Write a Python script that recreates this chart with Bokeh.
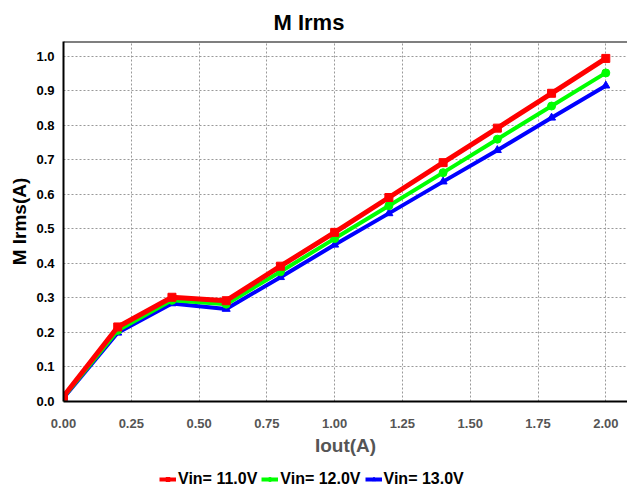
from bokeh.plotting import figure
from bokeh.layouts import column
from bokeh.models import Range1d, Legend, LegendItem, Span, FixedTicker, PrintfTickFormatter
from bokeh.embed import file_html
from bokeh.resources import INLINE

iout = [0.0, 0.2, 0.4, 0.6, 0.8, 1.0, 1.2, 1.4, 1.6, 1.8, 2.0]
vin11 = [0.015, 0.216, 0.302, 0.292, 0.392, 0.490, 0.591, 0.692, 0.792, 0.893, 0.994]
vin12 = [0.012, 0.206, 0.293, 0.282, 0.376, 0.472, 0.567, 0.663, 0.760, 0.856, 0.952]
vin13 = [0.010, 0.199, 0.284, 0.268, 0.360, 0.454, 0.545, 0.637, 0.728, 0.822, 0.915]
series_names = ["Vin= 11.0V", "Vin= 12.0V", "Vin= 13.0V"]
x_ticks = [0.0, 0.25, 0.5, 0.75, 1.0, 1.25, 1.5, 1.75, 2.0]
y_ticks = [0.0, 0.1, 0.2, 0.3, 0.4, 0.5, 0.6, 0.7, 0.8, 0.9, 1.0]

FONT = "Liberation Sans"

p = figure(width=627, height=458, output_backend="svg", toolbar_location=None,
           x_range=Range1d(0, 2.08), y_range=Range1d(0, 1.043),
           min_border_left=63, min_border_right=0, min_border_top=40, min_border_bottom=57)

p.title.text = "M Irms"
p.title.align = "left"
p.title.offset = 210
p.title.standoff = 14
p.title.text_font = FONT
p.title.text_font_size = "22px"
p.title.text_font_style = "bold"
p.title.text_color = "black"

p.outline_line_color = None
p.background_fill_color = "white"
p.border_fill_color = "white"

for g in (p.xgrid, p.ygrid):
    g.grid_line_color = "#999999"
    g.grid_line_dash = "2 2"
    g.grid_line_width = 1
p.xgrid.ticker = FixedTicker(ticks=x_ticks)
p.ygrid.ticker = FixedTicker(ticks=y_ticks)

p.xaxis.ticker = FixedTicker(ticks=x_ticks)
p.xaxis.formatter = PrintfTickFormatter(format="%.2f")
p.yaxis.ticker = FixedTicker(ticks=y_ticks)
p.yaxis.formatter = PrintfTickFormatter(format="%.1f")

p.xaxis.axis_label = "Iout(A)"
p.yaxis.axis_label = "M Irms(A)"
for ax in (p.xaxis, p.yaxis):
    ax.major_tick_line_color = None
    ax.minor_tick_line_color = None
    ax.major_tick_out = 0
    ax.major_tick_in = 0
    ax.minor_tick_out = 0
    ax.minor_tick_in = 0
    ax.axis_line_color = "black"
    ax.axis_line_width = 2
    ax.major_label_text_font = FONT
    ax.major_label_text_font_style = "bold"
    ax.major_label_text_font_size = "13px"
    ax.axis_label_text_font = FONT
    ax.axis_label_text_font_style = "bold"
    ax.axis_label_text_font_size = "19px"
p.xaxis.major_label_text_color = "#555555"
p.xaxis.axis_label_text_color = "#555555"
p.yaxis.major_label_text_color = "black"
p.yaxis.axis_label_text_color = "black"
p.xaxis.major_label_standoff = 17
p.yaxis.major_label_standoff = 9
p.xaxis.axis_label_standoff = 4
p.yaxis.axis_label_standoff = 3

p.add_layout(Span(location=1.043, dimension="width", line_color="black", line_width=2))

colors = ["#ff0000", "#00ff00", "#0000ff"]
markers = ["square", "circle", "triangle"]
widths = [5, 4, 4]
for ys, c, m, w in zip([vin13, vin12, vin11], colors[::-1], markers[::-1], widths[::-1]):
    p.line(iout, ys, line_color=c, line_width=w)
    p.scatter(iout, ys, marker=m, size=8, fill_color=c, line_color=c)

# legend strip below the chart (glyphs drawn outside its visible range)
pl = figure(width=627, height=30, output_backend="svg", toolbar_location=None,
            x_axis_type=None, y_axis_type=None, x_range=Range1d(0, 1), y_range=Range1d(0, 1),
            min_border_left=0, min_border_right=0, min_border_top=0, min_border_bottom=0)
pl.outline_line_color = None
pl.xgrid.visible = False
pl.ygrid.visible = False
items = []
for c, m, name in zip(colors, markers, series_names):
    ln = pl.line([-5, -4], [-5, -4], line_color=c, line_width=4)
    sc = pl.scatter([-5], [-5], marker=m, size=7, fill_color=c, line_color=c)
    items.append(LegendItem(label=name, renderers=[ln, sc]))

legend = Legend(items=items, orientation="horizontal", location=(96, 0),
                label_text_font=FONT, label_text_font_style="bold", label_text_font_size="16px",
                label_text_color="black", border_line_color=None, background_fill_alpha=0,
                glyph_width=17, glyph_height=10, spacing=4, label_standoff=2,
                padding=2, margin=0)
pl.add_layout(legend)

layout = column(p, pl, spacing=0)
open("out.html", "w").write(file_html(layout, INLINE))
